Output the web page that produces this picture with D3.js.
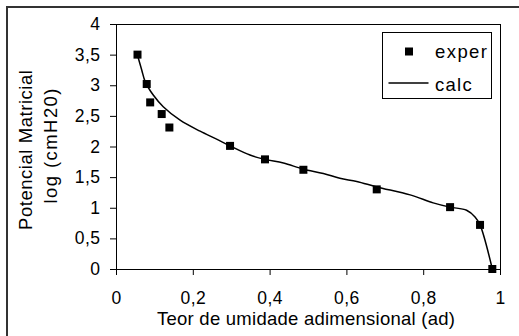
<!DOCTYPE html>
<html>
<head>
<meta charset="utf-8">
<script src="https://cdn.jsdelivr.net/npm/d3@7"></script>
<style>
  body { margin: 0; background: #fff; }
  svg { display: block; font-family: "Liberation Sans", Arial, sans-serif; }
  .tick text { font-size: 17.5px; letter-spacing: 0.5px; fill: #000; }
  .tick line { stroke: #000; }
</style>
</head>
<body>
<div id="chart"></div>
<script>
// data
const experX = [0.056, 0.080, 0.089, 0.119, 0.139, 0.297, 0.388, 0.488, 0.679, 0.870, 0.948, 0.980];
const experY = [3.50, 3.02, 2.72, 2.53, 2.31, 2.01, 1.79, 1.62, 1.30, 1.01, 0.72, 0.00];

const calcX = [0.056, 0.067, 0.076, 0.097, 0.123, 0.167, 0.219, 0.262, 0.297, 0.349, 0.388, 0.436,
  0.488, 0.540, 0.583, 0.627, 0.679, 0.766, 0.826, 0.870, 0.913, 0.935, 0.948, 0.980];
const calcY = [3.49, 3.25, 3.06, 2.84, 2.65, 2.43, 2.25, 2.12, 2.01, 1.86, 1.79, 1.73,
  1.63, 1.56, 1.48, 1.43, 1.34, 1.21, 1.08, 1.01, 0.96, 0.85, 0.72, 0.00];

const xTicks = [0, 0.2, 0.4, 0.6, 0.8, 1];
const yTicks = [0, 0.5, 1, 1.5, 2, 2.5, 3, 3.5, 4];

const legendLabels = ['exper', 'calc'];

// dimensions
const width = 519;
const height = 336;
const MARGIN_LEFT = 116;
const MARGIN_TOP = 24;
const PLOT_W = 384;
const PLOT_H = 245;
const FONT = 18.5;

const fmt = d => String(d).replace('.', ',');

const $svg = d3.select('#chart').append('svg')
  .attr('width', width)
  .attr('height', height);

// outer chart border (right / bottom edges fall outside the picture)
$svg.append('rect')
  .attr('x', 7).attr('y', 7)
  .attr('width', 600).attr('height', 400)
  .attr('fill', 'none')
  .attr('stroke', '#333')
  .attr('stroke-width', 2);

const scaleX = d3.scaleLinear().domain([0, 1]).range([MARGIN_LEFT, MARGIN_LEFT + PLOT_W]);
const scaleY = d3.scaleLinear().domain([0, 4]).range([MARGIN_TOP + PLOT_H, MARGIN_TOP]);

// axes
const $axisX = $svg.append('g')
  .attr('transform', `translate(0, ${MARGIN_TOP + PLOT_H})`)
  .call(d3.axisBottom(scaleX).tickValues(xTicks).tickFormat(fmt).tickSize(6).tickPadding(17));
$axisX.select('.domain').remove();

const $axisY = $svg.append('g')
  .attr('transform', `translate(${MARGIN_LEFT}, 0)`)
  .call(d3.axisLeft(scaleY).tickValues(yTicks).tickFormat(fmt).tickSize(6).tickPadding(9.5));
$axisY.select('.domain').remove();
$svg.selectAll('g').attr('font-family', null).attr('font-size', null);

// plot area frame
$svg.append('rect')
  .attr('x', MARGIN_LEFT + 0.5).attr('y', MARGIN_TOP + 0.5)
  .attr('width', PLOT_W).attr('height', PLOT_H)
  .attr('fill', 'none')
  .attr('stroke', '#000');

// calc curve (smoothed)
const calcData = calcX.map((x, i) => [x, calcY[i]]);
const line = d3.line()
  .x(d => scaleX(d[0]))
  .y(d => scaleY(d[1]))
  .curve(d3.curveCatmullRom.alpha(0.5));

$svg.append('path')
  .datum(calcData)
  .attr('d', line)
  .attr('fill', 'none')
  .attr('stroke', '#000')
  .attr('stroke-width', 1.5);

// exper markers
const experData = experX.map((x, i) => [x, experY[i]]);
const MARK = 8;
$svg.append('g').selectAll('rect')
  .data(experData)
  .join('rect')
  .attr('x', d => scaleX(d[0]) - MARK / 2)
  .attr('y', d => scaleY(d[1]) - MARK / 2)
  .attr('width', MARK)
  .attr('height', MARK)
  .attr('fill', '#000');

// axis titles
$svg.append('text')
  .attr('x', 306).attr('y', 324.5)
  .attr('text-anchor', 'middle')
  .attr('font-size', FONT)
  .attr('textLength', 298)
  .attr('lengthAdjust', 'spacing')
  .text('Teor de umidade adimensional (ad)');

$svg.append('text')
  .attr('transform', 'translate(32, 150) rotate(-90)')
  .attr('text-anchor', 'middle')
  .attr('font-size', FONT)
  .attr('textLength', 160)
  .attr('lengthAdjust', 'spacing')
  .text('Potencial Matricial');

$svg.append('text')
  .attr('transform', 'translate(57, 146) rotate(-90)')
  .attr('text-anchor', 'middle')
  .attr('font-size', FONT)
  .attr('textLength', 115)
  .attr('lengthAdjust', 'spacing')
  .text('log (cmH20)');

// legend
const $legend = $svg.append('g');
$legend.append('rect')
  .attr('x', 382.5).attr('y', 32.5)
  .attr('width', 109).attr('height', 66)
  .attr('fill', '#fff')
  .attr('stroke', '#000');

const symbolY = [51.5, 83];
const textY = [58, 91];
const legendLen = [52, 36.7];

$legend.append('rect')
  .attr('x', 409 - MARK / 2).attr('y', symbolY[0] - MARK / 2)
  .attr('width', MARK).attr('height', MARK)
  .attr('fill', '#000');

$legend.append('line')
  .attr('x1', 388.5).attr('x2', 428.5)
  .attr('y1', symbolY[1]).attr('y2', symbolY[1])
  .attr('stroke', '#000')
  .attr('stroke-width', 1.5);

$legend.selectAll('text')
  .data(legendLabels)
  .join('text')
  .attr('x', 435)
  .attr('y', (d, i) => textY[i])
  .attr('font-size', FONT)
  .attr('textLength', (d, i) => legendLen[i])
  .attr('lengthAdjust', 'spacing')
  .text(d => d);
</script>
</body>
</html>
